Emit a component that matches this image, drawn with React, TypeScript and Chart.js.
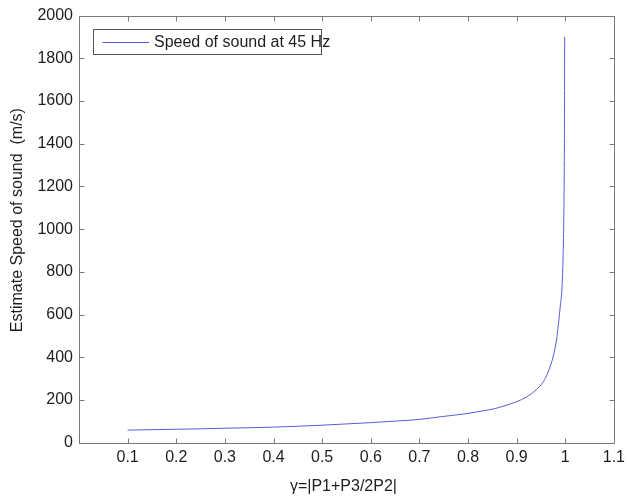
import React, { useEffect, useRef } from "react";
import { Chart, registerables } from "chart.js";

Chart.register(...registerables);

const gammaValues = [
  0.1, 0.15, 0.2, 0.25, 0.3, 0.35, 0.4, 0.45, 0.5, 0.55, 0.6, 0.65, 0.7, 0.745,
  0.8, 0.833, 0.854, 0.874, 0.9, 0.92, 0.94, 0.955, 0.965, 0.975, 0.982, 0.986,
  0.99, 0.993, 0.9954, 0.9965, 0.9975, 0.9982, 0.9986, 0.9988,
];
const speedValues = [
  59, 61, 63, 65, 68, 70, 73, 77, 82, 88, 94, 101, 109, 122,
  137, 150, 159, 172, 192, 214, 247, 286, 332, 402, 481, 555,
  645, 715, 855, 980, 1150, 1400, 1650, 1900,
];
const seriesLabel = "Speed of sound at 45 Hz";
const xTickValues = [0.1, 0.2, 0.3, 0.4, 0.5, 0.6, 0.7, 0.8, 0.9, 1.0, 1.1];
const xTickLabels = ["0.1", "0.2", "0.3", "0.4", "0.5", "0.6", "0.7", "0.8", "0.9", "1", "1.1"];
const yTickValues = [0, 200, 400, 600, 800, 1000, 1200, 1400, 1600, 1800, 2000];
const xTitle = "\u03b3=|P1+P3/2P2|";
const yTitle = "Estimate Speed of sound  (m/s)";

const FONT = "'Liberation Sans', Arial, Helvetica, sans-serif";
const AXIS_COLOR = "#7a7a7a";
const TEXT_COLOR = "#1e1e1e";
const LINE_COLOR = "rgb(90, 90, 212)";

const matlabPlugin = {
  id: "matlabDecor",
  afterDraw(chart: any) {
    const { ctx, chartArea } = chart;
    const xs = chart.scales.x;
    const ys = chart.scales.y;
    const L = Math.round(chartArea.left) + 0.5;
    const R = Math.round(chartArea.right) + 0.5;
    const T = Math.round(chartArea.top) + 0.5;
    const B = Math.round(chartArea.bottom) + 0.5;
    ctx.save();
    ctx.strokeStyle = AXIS_COLOR;
    ctx.lineWidth = 1;
    ctx.beginPath();
    ctx.rect(L, T, R - L, B - T);
    const tl = 5;
    xTickValues.forEach((v) => {
      const px = Math.round(xs.getPixelForValue(v)) + 0.5;
      ctx.moveTo(px, B);
      ctx.lineTo(px, B - tl);
      ctx.moveTo(px, T);
      ctx.lineTo(px, T + tl);
    });
    yTickValues.forEach((v) => {
      const py = Math.round(ys.getPixelForValue(v)) + 0.5;
      ctx.moveTo(L, py);
      ctx.lineTo(L + tl, py);
      ctx.moveTo(R, py);
      ctx.lineTo(R - tl, py);
    });
    ctx.stroke();

    // Axis titles
    ctx.fillStyle = TEXT_COLOR;
    ctx.font = `16px ${FONT}`;
    ctx.textAlign = "center";
    ctx.textBaseline = "middle";
    ctx.fillText(xTitle, (chartArea.left + chartArea.right) / 2 - 3, 487);
    ctx.save();
    ctx.translate(17.5, (chartArea.top + chartArea.bottom) / 2 - 9);
    ctx.rotate(-Math.PI / 2);
    ctx.fillText(yTitle, 0, 0);
    ctx.restore();

    // Legend
    const lx0 = L + 14;
    const ly0 = T + 13;
    const lw = 228;
    const lh = 25;
    ctx.fillStyle = "#ffffff";
    ctx.fillRect(lx0, ly0, lw, lh);
    ctx.strokeStyle = "#555555";
    ctx.strokeRect(lx0, ly0, lw, lh);
    const midY = Math.round(ly0 + lh / 2) + 0.5;
    ctx.strokeStyle = LINE_COLOR;
    ctx.beginPath();
    ctx.moveTo(lx0 + 9, midY);
    ctx.lineTo(lx0 + 55.5, midY);
    ctx.stroke();
    ctx.fillStyle = TEXT_COLOR;
    ctx.textAlign = "left";
    ctx.textBaseline = "middle";
    ctx.font = `16px ${FONT}`;
    ctx.fillText(chart.data.datasets[0].label, lx0 + 60.5, midY + 0.5);
    ctx.restore();
  },
};

export default function App() {
  const canvasRef = useRef<HTMLCanvasElement | null>(null);

  useEffect(() => {
    const canvas = canvasRef.current;
    if (!canvas) return;
    const points = gammaValues.map((g, i) => ({ x: g, y: speedValues[i] }));
    const chart = new Chart(canvas, {
      type: "line",
      data: {
        datasets: [
          {
            label: seriesLabel,
            data: points,
            borderColor: LINE_COLOR,
            backgroundColor: LINE_COLOR,
            borderWidth: 1,
            pointRadius: 0,
            tension: 0.3,
            cubicInterpolationMode: "monotone",
            fill: false,
          },
        ],
      },
      options: {
        responsive: false,
        animation: false,
        devicePixelRatio: 1,
        layout: { padding: { left: 0, right: 8.4, top: 15.3, bottom: 0 } },
        plugins: {
          legend: { display: false },
          tooltip: { enabled: false },
          title: { display: false },
        },
        scales: {
          x: {
            type: "linear",
            min: 0,
            max: 1.1,
            afterBuildTicks: (scale: any) => {
              scale.ticks = xTickValues.map((v) => ({ value: v }));
            },
            afterFit: (scale: any) => {
              scale.height = 54.3;
            },
            ticks: {
              autoSkip: false,
              maxRotation: 0,
              padding: 5,
              color: TEXT_COLOR,
              font: { family: FONT, size: 16 },
              callback: (_v: any, i: number) => xTickLabels[i],
            },
            grid: { display: false, drawTicks: false },
            border: { display: false },
          },
          y: {
            type: "linear",
            min: 0,
            max: 2000,
            afterBuildTicks: (scale: any) => {
              scale.ticks = yTickValues.map((v) => ({ value: v }));
            },
            afterFit: (scale: any) => {
              scale.width = 79;
            },
            ticks: {
              autoSkip: false,
              padding: 6,
              color: TEXT_COLOR,
              font: { family: FONT, size: 16 },
              callback: (v: any) => String(v),
            },
            grid: { display: false, drawTicks: false },
            border: { display: false },
          },
        },
      },
      plugins: [matlabPlugin],
    });
    return () => chart.destroy();
  }, []);

  return (
    <div style={{ position: "fixed", left: 0, top: 0, width: 630, height: 497, background: "#fff" }}>
      <canvas ref={canvasRef} width={630} height={497} style={{ display: "block" }} />
    </div>
  );
}
